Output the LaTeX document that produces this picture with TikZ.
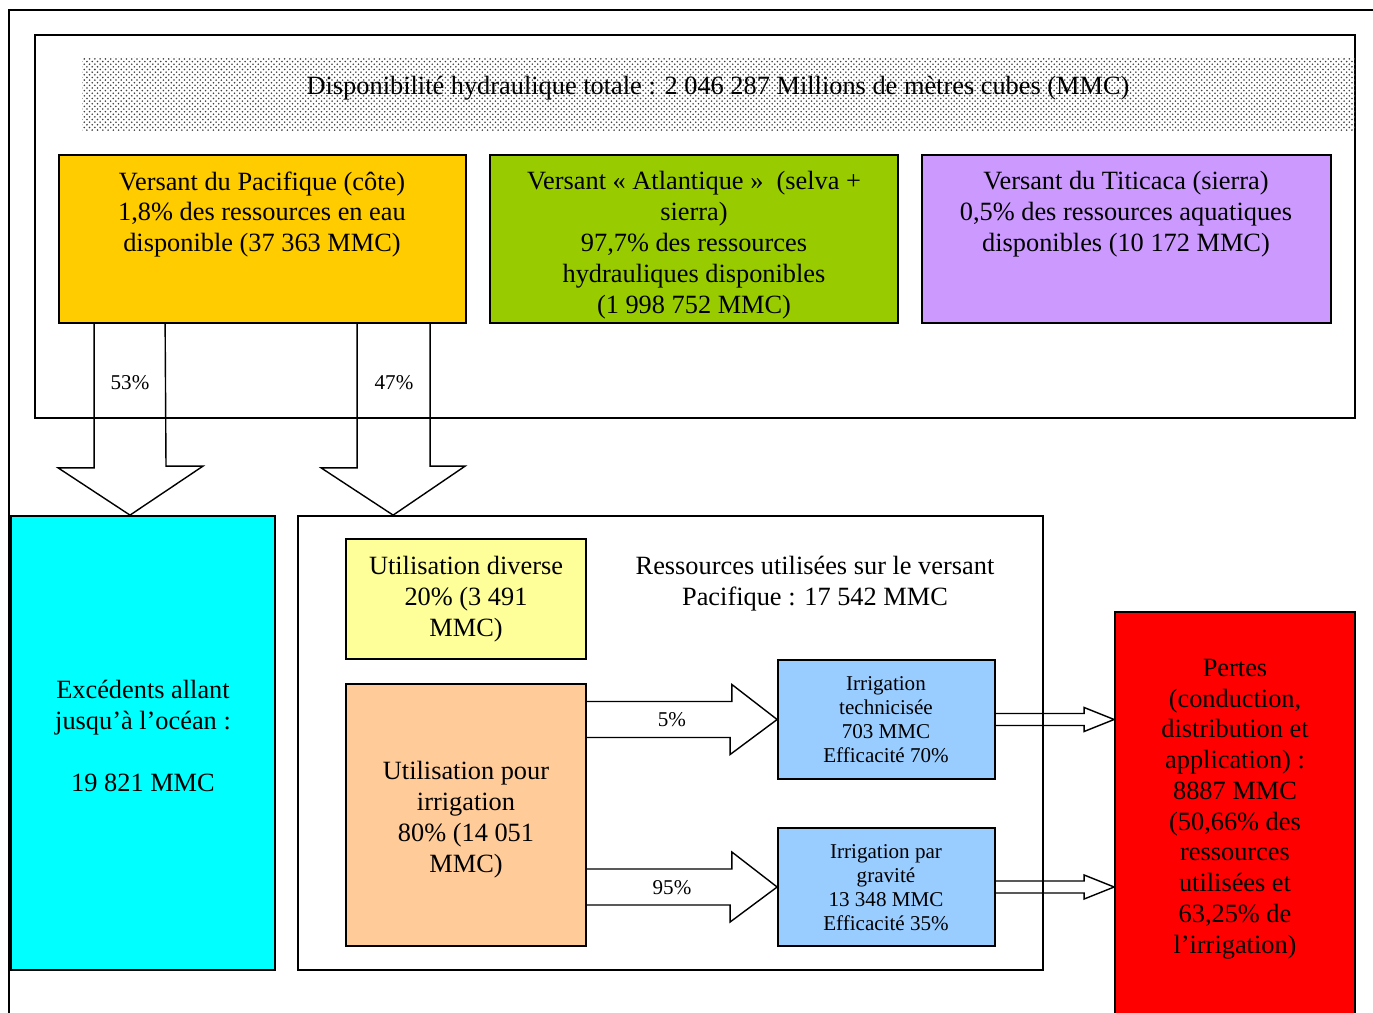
\documentclass[tikz,border=0pt]{standalone}
\usepackage{fontspec}
\setmainfont{Liberation Serif}
\usetikzlibrary{positioning, fit, calc, patterns}

\definecolor{pacifique}{HTML}{FFCC00}
\definecolor{atlantique}{HTML}{99CC00}
\definecolor{titicaca}{HTML}{CC99FF}
\definecolor{ocean}{HTML}{00FFFF}
\definecolor{diverse}{HTML}{FFFF99}
\definecolor{irrigation}{HTML}{FFCC99}
\definecolor{bleu}{HTML}{99CCFF}
\definecolor{pertes}{HTML}{FF0000}

\begin{document}
\begin{tikzpicture}
        [x=0.02cm, y=-0.02cm,
         box/.style={draw, line width=1pt, inner sep=0pt},
         txt/.style={align=center, inner sep=0pt, font=\fontsize{15}{17.6}\selectfont},
         petit/.style={align=center, inner sep=0pt, font=\fontsize{12}{13.6}\selectfont},
         fleche/.style={draw, line width=0.8pt, line join=miter}]
        \clip (0,0) rectangle (1373,1013);
        \fill[white] (0,0) rectangle (1373,1013);

        % cadres
        \draw[line width=1pt] (1390,10) -- (9,10) -- (9,1030);
        \node[box, fit={(35,35) (1355,418)}] (haut) {};
        \node[inner sep=0pt, fit={(82,58) (1355,131)}, pattern=crosshatch dots, pattern color=black!75] (dispo) {};
        \node[txt] (dispotxt) at (718,88) {Disponibilité hydraulique totale : 2 046 287 Millions de mètres cubes (MMC)};

        % versants
        \node[box, fill=pacifique, fit={(59,155) (466,323)}] (pac) {};
        \node[box, fill=atlantique, fit={(490,155) (898,323)}] (atl) {};
        \node[box, fill=titicaca, fit={(922,155) (1331,323)}] (titi) {};
        \node[txt] (pactxt) at (262,214.5) {Versant du Pacifique (côte)\\1,8\% des ressources en eau\\disponible (37 363 MMC)};
        \begin{scope}
            \clip (490,155) rectangle (898,322);
            \node[txt] (atltxt) at (694,245.5) {Versant « Atlantique »~ (selva +\\sierra)\\97,7\% des ressources\\hydrauliques disponibles\\(1 998 752 MMC)};
        \end{scope}
        \node[txt] (workaround) at (1126,214.5) {Versant du Titicaca (sierra)\\0,5\% des ressources aquatiques\\disponibles (10 172 MMC)};

        % bas
        \node[box, fill=ocean, fit={(11,516) (275,970)}] (exc) {};
        \node[txt] (exctxt) at (143,736) {Excédents allant\\jusqu’à l’océan :\\~\\19 821 MMC};
        \node[box, fit={(298,516) (1043,970)}] (ress) {};
        \node[txt] (resstxt) at (815,583.5) {Ressources utilisées sur le versant\\Pacifique : 17 542 MMC};
        \node[box, fill=diverse, fit={(346,539) (586,659)}] (div) {};
        \node[txt] (divtxt) at (466,599) {Utilisation diverse\\20\% (3 491\\MMC)};
        \node[box, fill=irrigation, fit={(346,684) (586,946)}] (irr) {};
        \node[txt] (irrtxt) at (466,819.5) {Utilisation pour\\irrigation\\80\% (14 051\\MMC)};
        \node[box, fill=bleu, fit={(778,660) (995,779)}] (tech) {};
        \node[petit] (techtxt) at (886,719.5) {Irrigation\\technicisée\\703 MMC\\Efficacité 70\%};
        \node[box, fill=bleu, fit={(778,828) (995,946)}] (grav) {};
        \node[petit] (gravtxt) at (886,887.5) {Irrigation par\\gravité\\13 348 MMC\\Efficacité 35\%};
        \node[box, fill=pertes, fit={(1115,612) (1355,1040)}] (perte) {};
        \node[txt, font=\fontsize{15}{17.5}\selectfont] (pertetxt) at (1235,809) {Pertes\\(conduction,\\distribution et\\application) :\\8887 MMC\\(50,66\% des\\ressources\\utilisées et\\63,25\% de\\l’irrigation)};

        % fleches
        \draw[fleche] ($(pac.south west)+(36,0)$) -- ++(0,144) -- ++(-36,0) -- ($(exc.north)+(-13,0)$)
            -- ++(73,-49) -- ++(-37,0) -- ($(pac.south west)+(107,0)$);
        \draw[fleche] ($(pac.south west)+(299,0)$) -- ++(0,144) -- ++(-36,0) -- ($(ress.north west)+(96,0)$)
            -- ++(72,-49) -- ++(-35,0) -- ($(pac.south west)+(372,0)$);
        \node[petit] (p53) at (130,383) {53\%};
        \node[petit] (p47) at (394,383) {47\%};

        \draw[fleche] ($(irr.east |- tech.west)+(0,-18)$) -- ++(145,0) -- ++(0,-17) -- (tech.west)
            -- ++(-47,35) -- ++(0,-17) -- ($(irr.east |- tech.west)+(0,18)$);
        \draw[fleche] ($(irr.east |- grav.west)+(0,-18)$) -- ++(145,0) -- ++(0,-17) -- (grav.west)
            -- ++(-47,35) -- ++(0,-17) -- ($(irr.east |- grav.west)+(0,18)$);
        \node[petit] (p5) at (672,720) {5\%};
        \node[petit] (p95) at (672,888) {95\%};

        \draw[fleche] ($(tech.east)+(0,-6)$) -- ($(perte.west |- tech.east)+(-30,-6)$) -- ++(0,-6)
            -- (perte.west |- tech.east) -- ++(-30,12) -- ++(0,-6) -- ($(tech.east)+(0,6)$);
        \draw[fleche] ($(grav.east)+(0,-6)$) -- ($(perte.west |- grav.east)+(-30,-6)$) -- ++(0,-6)
            -- (perte.west |- grav.east) -- ++(-30,12) -- ++(0,-6) -- ($(grav.east)+(0,6)$);
    \end{tikzpicture}
\end{document}
